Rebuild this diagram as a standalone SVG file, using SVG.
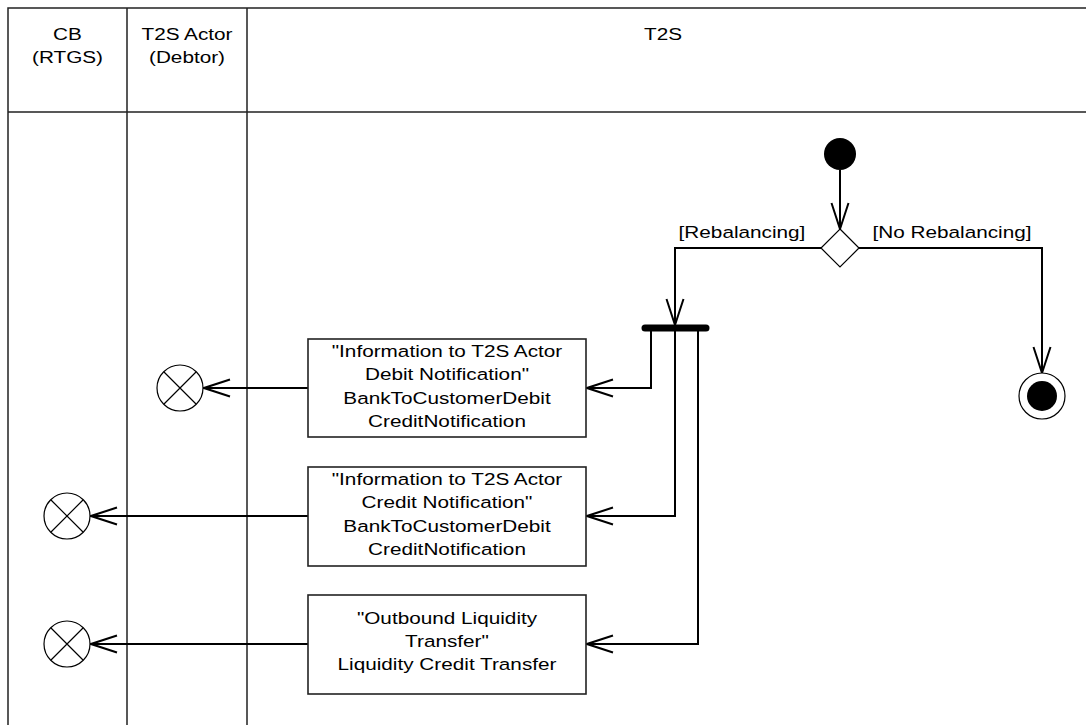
<svg xmlns="http://www.w3.org/2000/svg" width="1086" height="725" viewBox="0 0 1086 725">
<style>
.t{font-family:"Liberation Sans",Arial,sans-serif;font-size:17px;fill:#000;text-anchor:middle}
.frame{stroke:#222;stroke-width:1.5;fill:none}
.box{fill:#fff;stroke:#222;stroke-width:1.6}
.flow{fill:none;stroke:#000;stroke-width:2}
.thin{fill:#fff;stroke:#000;stroke-width:1.2}
</style>
<defs>
<marker id="open" viewBox="-28 -11 30 22" markerUnits="userSpaceOnUse" markerWidth="30" markerHeight="22" refX="0" refY="0" orient="auto">
<path d="M-26,-8.5 L0,0 L-26,8.5" fill="none" stroke="#000" stroke-width="2"/>
</marker>
</defs>
<rect width="1086" height="725" fill="#fff"/>
<g id="lanes">
<path class="frame" d="M8,725 V8 H1086 M8,112 H1086 M127,8 V725 M247,8 V725"/>
<text class="t" transform="translate(67.5,40) scale(1.22,1)">CB</text>
<text class="t" transform="translate(67.5,63) scale(1.22,1)">(RTGS)</text>
<text class="t" transform="translate(187,40) scale(1.22,1)">T2S Actor</text>
<text class="t" transform="translate(187,63) scale(1.22,1)">(Debtor)</text>
<text class="t" transform="translate(663,40) scale(1.22,1)">T2S</text>
</g>
<g id="connectors">
<path class="flow" d="M840,170 V229" marker-end="url(#open)"/>
<path class="flow" d="M821,248 H675 V325" marker-end="url(#open)"/>
<path class="flow" d="M859,248 H1042 V373" marker-end="url(#open)"/>
<path class="flow" d="M651,331 V388 H587" marker-end="url(#open)"/>
<path class="flow" d="M675,331 V516 H587" marker-end="url(#open)"/>
<path class="flow" d="M698,331 V644 H587" marker-end="url(#open)"/>
<path class="flow" d="M308,388 H204" marker-end="url(#open)"/>
<path class="flow" d="M308,516 H91" marker-end="url(#open)"/>
<path class="flow" d="M308,644 H91" marker-end="url(#open)"/>
<text class="t" transform="translate(742,238) scale(1.22,1)">[Rebalancing]</text>
<text class="t" transform="translate(952,238) scale(1.22,1)">[No Rebalancing]</text>
</g>
<g id="start"><circle cx="840" cy="154" r="16" fill="#000"/></g>
<g id="decision"><polygon class="thin" points="840,229 859,248 840,267 821,248"/></g>
<g id="fork"><line x1="645" y1="328" x2="706" y2="328" stroke="#000" stroke-width="7" stroke-linecap="round"/></g>
<g id="final"><circle cx="1042" cy="396" r="23" class="thin"/><circle cx="1042" cy="396" r="15" fill="#000"/></g>
<g id="box1">
<rect class="box" x="308" y="339" width="278" height="98"/>
<text class="t" transform="translate(447,357) scale(1.22,1)">"Information to T2S Actor</text>
<text class="t" transform="translate(447,380) scale(1.22,1)">Debit Notification"</text>
<text class="t" transform="translate(447,404) scale(1.22,1)">BankToCustomerDebit</text>
<text class="t" transform="translate(447,427) scale(1.22,1)">CreditNotification</text>
</g>
<g id="box2">
<rect class="box" x="308" y="467" width="278" height="99"/>
<text class="t" transform="translate(447,485) scale(1.22,1)">"Information to T2S Actor</text>
<text class="t" transform="translate(447,508) scale(1.22,1)">Credit Notification"</text>
<text class="t" transform="translate(447,532) scale(1.22,1)">BankToCustomerDebit</text>
<text class="t" transform="translate(447,555) scale(1.22,1)">CreditNotification</text>
</g>
<g id="box3">
<rect class="box" x="308" y="595" width="278" height="99"/>
<text class="t" transform="translate(447,624) scale(1.22,1)">"Outbound Liquidity</text>
<text class="t" transform="translate(447,647) scale(1.22,1)">Transfer"</text>
<text class="t" transform="translate(447,670) scale(1.22,1)">Liquidity Credit Transfer</text>
</g>
<g id="end1"><circle class="thin" cx="180" cy="388" r="23"/><path d="M164,372 L196,404 M196,372 L164,404" stroke="#000" stroke-width="1.2"/></g>
<g id="end2"><circle class="thin" cx="67" cy="516" r="23"/><path d="M51,500 L83,532 M83,500 L51,532" stroke="#000" stroke-width="1.2"/></g>
<g id="end3"><circle class="thin" cx="67" cy="644" r="23"/><path d="M51,628 L83,660 M83,628 L51,660" stroke="#000" stroke-width="1.2"/></g>
</svg>
